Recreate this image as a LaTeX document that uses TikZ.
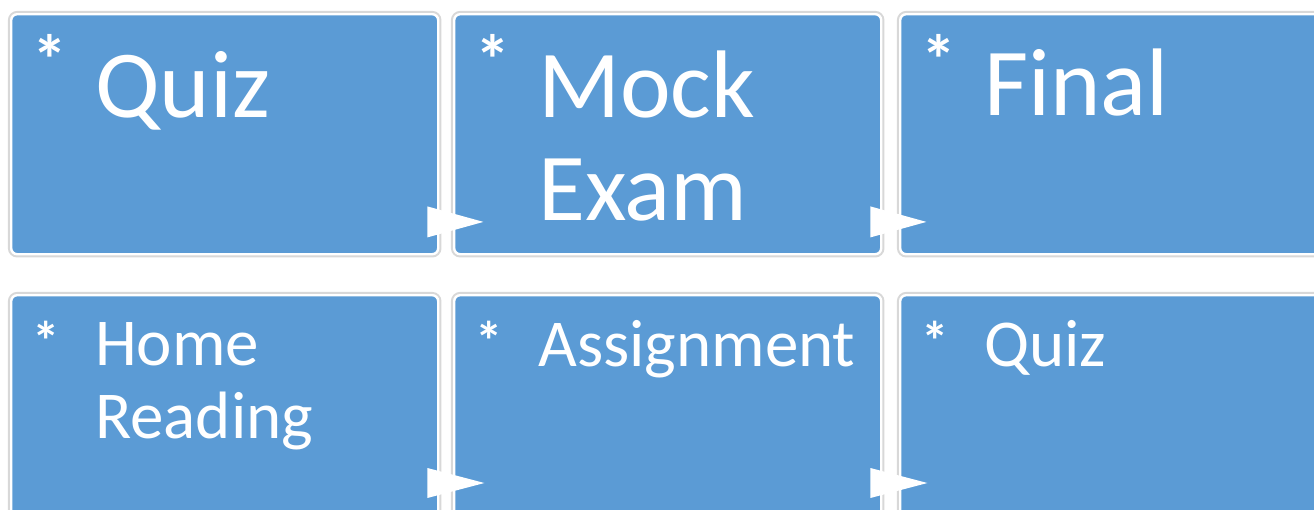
\documentclass[tikz,border=0pt]{standalone}
\usepackage{fontspec}
\setmainfont{Carlito}
\usetikzlibrary{calc}
\definecolor{boxblue}{HTML}{5B9BD5}
\definecolor{edgegray}{HTML}{D8D8D8}
\begin{document}
\begin{tikzpicture}[x=1pt,y=-1pt,
  stepbox/.style={rectangle, rounded corners=6pt, fill=boxblue, draw=white,
    line width=2.4pt, minimum width=427pt, minimum height=240pt,
    anchor=north west, inner sep=0pt,
    preaction={draw=edgegray, line width=6.5pt}},
  bigtext/.style={text=white, inner sep=0pt, anchor=base west,
    font=\fontsize{96}{103}\selectfont},
  smalltext/.style={text=white, inner sep=0pt, anchor=base west,
    font=\fontsize{67}{73}\selectfont},
  bigstar/.style={text=white, inner sep=0pt, anchor=base west,
    font=\fontsize{70}{70}\selectfont\bfseries},
  smallstar/.style={text=white, inner sep=0pt, anchor=base west,
    font=\fontsize{55}{55}\selectfont\bfseries},
  arrowtri/.style={fill=white}]
\useasboundingbox (0,0) rectangle (1314,509);
\fill[white] (0,0) rectangle (1314,509);
\clip (0,0) rectangle (1314,509);

% boxes
\node[stepbox] (b1) at (10,13) {};
\node[stepbox] (b2) at (453,13) {};
\node[stepbox] (b3) at (899,13) {};
\node[stepbox] (b4) at (10,294) {};
\node[stepbox] (b5) at (453,294) {};
\node[stepbox] (b6) at (899,294) {};

% connectors (triangles)
\fill[arrowtri] ($(b1.south east)+(-12,-49)$) -- ++(0,31) -- ++(56,-15.5) -- cycle;
\fill[arrowtri] ($(b2.south east)+(-12,-49)$) -- ++(0,31) -- ++(56,-15.5) -- cycle;
\fill[arrowtri] ($(b4.north east)+(-12,174)$) -- ++(0,30) -- ++(57,-15) -- cycle;
\fill[arrowtri] ($(b5.north east)+(-12,174)$) -- ++(0,30) -- ++(57,-15) -- cycle;

% bullets
\node[bigstar] (s1) at ($(b1.north west)+(22,71)$) {*};
\node[bigstar] (s2) at ($(b2.north west)+(22,71)$) {*};
\node[bigstar] (s3) at ($(b3.north west)+(22,71)$) {*};
\node[smallstar] (s4) at ($(b4.north west)+(22,66)$) {*};
\node[smallstar] (s5) at ($(b5.north west)+(22,66)$) {*};
\node[smallstar] (s6) at ($(b6.north west)+(22,66)$) {*};

% texts
\node[bigtext] (t1) at ($(b1.north west)+(85,104)$) {Quiz};
\node[bigtext] (t2) at ($(b2.north west)+(85,104)$) {\vtop{\hbox{Mock}\hbox{Exam}}};
\node[bigtext] (t3) at ($(b3.north west)+(85,102)$) {Final};
\node[smalltext] (t4) at ($(b4.north west)+(85,71)$) {\vtop{\hbox{Home}\hbox{Reading}}};
\node[smalltext] (t5) at ($(b5.north west)+(85,72)$) {Assignment};
\node[smalltext] (t6) at ($(b6.north west)+(85,72)$) {Quiz};
\end{tikzpicture}
\end{document}
